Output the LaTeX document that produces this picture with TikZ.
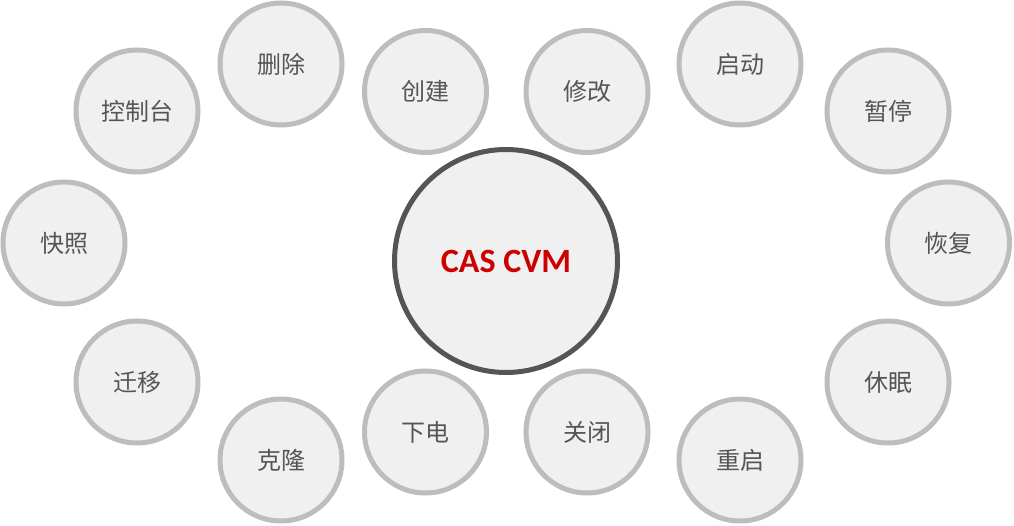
\documentclass[tikz,border=0pt]{standalone}
\usepackage{fontspec}
\newfontfamily\cjk{Noto Sans CJK SC}
\newfontfamily\capfont{Carlito}
\definecolor{opgray}{HTML}{BDBDBD}
\definecolor{opfill}{HTML}{F0F0F0}
\definecolor{optext}{HTML}{555555}
\definecolor{hubgray}{HTML}{555555}
\definecolor{hubred}{HTML}{CC0000}
\begin{document}
\begin{tikzpicture}[x=1pt,y=-1pt,
  op/.style={circle,draw=opgray,fill=opfill,line width=5pt,minimum size=122pt,inner sep=0pt,text=optext,font=\cjk\fontsize{24}{24}\selectfont},
  hub/.style={circle,draw=hubgray,fill=opfill,line width=5pt,minimum size=223pt,inner sep=0pt,text=hubred,font=\capfont\bfseries\fontsize{34}{34}\selectfont}]
			\useasboundingbox (0,0) rectangle (1014,526);
			%centre
			\node[hub] (cvm) at (506,261) {CAS CVM};
			%upper arc
			\node[op] (ctl) at (137,111) {控制台};
			\node[op] (del) at (281,64) {删除};
			\node[op] (create) at (425.5,91.5) {创建};
			\node[op] (edit) at (587,91.5) {修改};
			\node[op] (start) at (740,64) {启动};
			\node[op] (pause) at (888,111) {暂停};
			%sides
			\node[op] (snap) at (64,243) {快照};
			\node[op] (resume) at (948.5,243) {恢复};
			%lower arc
			\node[op] (migrate) at (137,382) {迁移};
			\node[op] (clone) at (281,460) {克隆};
			\node[op] (poweroff) at (425.5,432) {下电};
			\node[op] (shut) at (587,432) {关闭};
			\node[op] (reboot) at (740,460) {重启};
			\node[op] (sleep) at (888,382) {休眠};
		\end{tikzpicture}
\end{document}
